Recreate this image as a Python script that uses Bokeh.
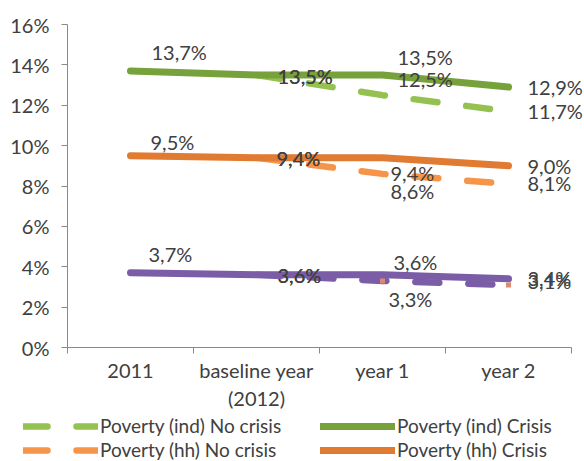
from bokeh.plotting import figure
from bokeh.models import Range1d, FixedTicker, ColumnDataSource, Legend, LegendItem
from bokeh.core.properties import value
from bokeh.embed import file_html
from bokeh.resources import INLINE

# ---------------- data ----------------
categories = ["2011", "baseline year\n(2012)", "year 1", "year 2"]
nocrisis_start = 1  # "No crisis" scenarios start at the baseline year
ind_crisis = [13.7, 13.5, 13.5, 12.9]
ind_nocrisis = [13.5, 12.5, 11.7]
hh_crisis = [9.5, 9.4, 9.4, 9.0]
hh_nocrisis = [9.4, 8.6, 8.1]
ext_crisis = [3.7, 3.6, 3.6, 3.4]
ext_nocrisis = [3.6, 3.3, 3.1]
y_ticks = [0, 2, 4, 6, 8, 10, 12, 14, 16]

# ---------------- styling ----------------
FONT = "Lato"
FS = "20px"
LFS = "19px"
TEXT = "#404040"
GREY = "#898989"
C_IND = "#77a13b"
C_IND_NC = "#94c150"
C_HH = "#e07b31"
C_HH_NC = "#f6954a"
C_EXT = "#7b5ca6"
C_MARK = "#d98a72"
DASH = "24 29"
LW = 7
LWD = 6.5

n = len(categories)
x_all = [i + 0.5 for i in range(n)]
x_nc = x_all[nocrisis_start:]

# frame spans to the right edge so that the year-2 labels are not clipped;
# the x axis itself is bounded to the categories
p = figure(width=584, height=413, output_backend="svg", toolbar_location=None,
           x_range=Range1d(0, n * 517 / 504), y_range=Range1d(0, 16),
           min_border_left=67, min_border_right=0, min_border_top=24,
           min_border_bottom=60)
p.outline_line_color = None
p.xgrid.visible = False
p.ygrid.visible = False
p.background_fill_color = "white"
p.border_fill_color = "white"

# y axis
yax = p.yaxis[0]
yax.ticker = FixedTicker(ticks=y_ticks, minor_ticks=[])
yax.major_label_overrides = {t: f"{t}%" for t in y_ticks}
yax.axis_line_color = GREY
yax.major_tick_line_color = GREY
yax.major_tick_out = 6
yax.major_tick_in = 0
yax.minor_tick_line_color = None
yax.major_label_standoff = 12
yax.major_label_text_font = FONT
yax.major_label_text_font_size = FS
yax.major_label_text_color = TEXT

# x axis: labels at category centres, ticks at category boundaries
xax = p.xaxis[0]
xax.bounds = (0, n)
xax.ticker = FixedTicker(ticks=x_all, minor_ticks=list(range(n + 1)))
xax.major_label_overrides = {x: c for x, c in zip(x_all, categories)}
xax.axis_line_color = GREY
xax.major_tick_line_color = None
xax.major_tick_out = 6
xax.major_tick_in = 0
xax.minor_tick_line_color = GREY
xax.minor_tick_out = 6
xax.minor_tick_in = 0
xax.major_label_standoff = 4
xax.major_label_text_font = FONT
xax.major_label_text_font_size = FS
xax.major_label_text_color = TEXT

style_ind_nc = dict(line_color=C_IND_NC, line_width=LWD, line_dash=DASH, line_cap="round")
style_ind = dict(line_color=C_IND, line_width=LW, line_cap="round", line_join="round")
style_hh_nc = dict(line_color=C_HH_NC, line_width=LWD, line_dash=DASH, line_cap="round")
style_hh = dict(line_color=C_HH, line_width=LW, line_cap="round", line_join="round")
style_ext_nc = dict(line_color=C_EXT, line_width=LWD, line_dash=DASH, line_cap="round")
style_ext = dict(line_color=C_EXT, line_width=LW, line_cap="round", line_join="round")

p.line(x_nc, ext_nocrisis, **style_ext_nc)
p.line(x_all, ext_crisis, **style_ext)
p.scatter(x_nc[1:], ext_nocrisis[1:], marker="square", size=5,
          fill_color=C_MARK, line_color=None)
p.line(x_nc, hh_nocrisis, **style_hh_nc)
p.line(x_all, hh_crisis, **style_hh)
p.line(x_nc, ind_nocrisis, **style_ind_nc)
p.line(x_all, ind_crisis, **style_ind)

# ---------------- data labels ----------------
def fmt(v):
    return f"{v:.1f}%".replace(".", ",")

label_series = [
    (x_all, ind_crisis, [(21, -19), (21, 1), (15, -18), (19, 0)]),
    (x_nc, ind_nocrisis, [(21, 1), (15, -16), (19, 0)]),
    (x_all, hh_crisis, [(20, -14), (20, 0), (8, 15), (19, 0)]),
    (x_nc, hh_nocrisis, [(20, 0), (8, 17), (19, -1)]),
    (x_all, ext_crisis, [(18, -19), (21, 0), (11, -13), (19, -1)]),
    (x_nc, ext_nocrisis, [(21, 0), (6, 18), (19, -4)]),
]
lx, ly, lt, ldx, ldy = [], [], [], [], []
for xs, ys, offs in label_series:
    for xv, yv, (dx, dy) in zip(xs, ys, offs):
        lx.append(xv)
        ly.append(yv)
        lt.append(fmt(yv))
        ldx.append(dx)
        ldy.append(dy)
lsrc = ColumnDataSource(dict(x=lx, y=ly, t=lt, dx=ldx, dy=ldy))
p.text(x="x", y="y", text="t", x_offset="dx", y_offset="dy", source=lsrc,
       text_font=value(FONT), text_font_size=value(FS), text_color=TEXT,
       text_align="left", text_baseline="middle")

# ---------------- legend (separate strip below the chart) ----------------
# the series are drawn again here only so that the legend can show their
# line styles; the y range keeps them out of view.
pl = figure(width=584, height=48, output_backend="svg", toolbar_location=None,
            x_range=Range1d(0, n), y_range=Range1d(-1, 0),
            x_axis_location=None, y_axis_location=None,
            min_border_left=0, min_border_right=0, min_border_top=0,
            min_border_bottom=0)
pl.outline_line_color = None
pl.xgrid.visible = False
pl.ygrid.visible = False

lr_ind_nc = pl.line(x_nc, ind_nocrisis, **style_ind_nc)
lr_ind = pl.line(x_all, ind_crisis, **style_ind)
lr_hh_nc = pl.line(x_nc, hh_nocrisis, **style_hh_nc)
lr_hh = pl.line(x_all, hh_crisis, **style_hh)

def make_legend(items, loc):
    return Legend(items=items, location=loc, orientation="vertical",
                  glyph_width=75, glyph_height=20, label_height=20,
                  label_standoff=2, spacing=1, padding=0, margin=0,
                  border_line_color=None, background_fill_alpha=0,
                  label_text_font=FONT, label_text_font_size=LFS,
                  label_text_color=TEXT)

pl.add_layout(make_legend([LegendItem(label="Poverty (ind) No crisis", renderers=[lr_ind_nc]),
                           LegendItem(label="Poverty (hh) No crisis", renderers=[lr_hh_nc])],
                          (23, 0)))
pl.add_layout(make_legend([LegendItem(label="Poverty (ind) Crisis", renderers=[lr_ind]),
                           LegendItem(label="Poverty (hh) Crisis", renderers=[lr_hh])],
                          (320, 0)))

open("out.html", "w").write(file_html([p, pl], INLINE))
